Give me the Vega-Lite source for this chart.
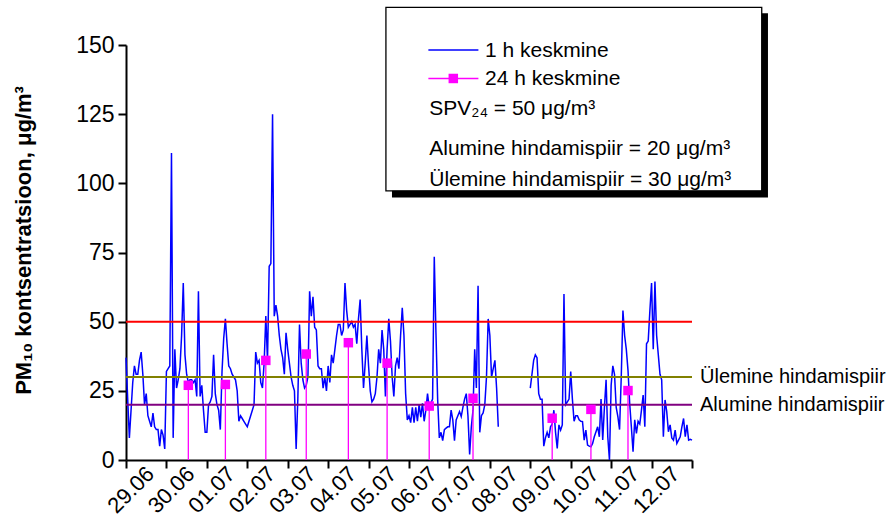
{
  "$schema": "https://vega.github.io/schema/vega-lite/v6.json",
  "width": 566,
  "height": 415,
  "autosize": "none",
  "padding": {"left": 126, "top": 45, "right": 198, "bottom": 58},
  "background": "white",
  "config": {
    "view": {"stroke": null},
    "font": "Liberation Sans",
    "text": {"font": "Liberation Sans", "color": "black"}
  },
  "data": {"values": [{}]},
  "datasets": {
    "piirid": [
      {"v": 50, "nimi": "SPV"},
      {"v": 30, "nimi": "Ülemine hindamispiir"},
      {"v": 20, "nimi": "Alumine hindamispiir"}
    ],
    "h24": [
      {"tund": 37, "v": 27}, {"tund": 59, "v": 27.3}, {"tund": 83, "v": 36}, {"tund": 107, "v": 38.3},
      {"tund": 132, "v": 42.4}, {"tund": 155, "v": 35}, {"tund": 180, "v": 19.5}, {"tund": 206, "v": 22.3},
      {"tund": 253, "v": 15.1}, {"tund": 276, "v": 18.3}, {"tund": 298, "v": 25.1}
    ],
    "h1": [
      {"tund":0,"v":37},{"tund":1,"v":22},{"tund":2,"v":8},{"tund":3,"v":18},{"tund":4,"v":28},{"tund":5,"v":34},{"tund":6,"v":31},{"tund":7,"v":31},{"tund":8,"v":36},{"tund":9,"v":39},
      {"tund":10,"v":31},{"tund":11,"v":20},{"tund":12,"v":24},{"tund":13,"v":16},{"tund":14,"v":14},{"tund":15,"v":12},{"tund":16,"v":17},{"tund":17,"v":12},{"tund":18,"v":11},{"tund":19,"v":11},
      {"tund":20,"v":5},{"tund":21,"v":11},{"tund":22,"v":9},{"tund":23,"v":4},{"tund":24,"v":32},{"tund":25,"v":33},{"tund":26,"v":34},{"tund":27,"v":111},{"tund":28,"v":8},{"tund":29,"v":40},
      {"tund":30,"v":26},{"tund":31,"v":29},{"tund":32,"v":33},{"tund":33,"v":45},{"tund":34,"v":64},{"tund":35,"v":38},{"tund":36,"v":31},{"tund":37,"v":28},{"tund":38,"v":29},{"tund":39,"v":29},
      {"tund":40,"v":28},{"tund":41,"v":29},{"tund":42,"v":23},{"tund":43,"v":61},{"tund":44,"v":23},{"tund":45,"v":27},{"tund":46,"v":18},{"tund":47,"v":10},{"tund":48,"v":10},{"tund":49,"v":20},
      {"tund":50,"v":21},{"tund":51,"v":23},{"tund":52,"v":38},{"tund":53,"v":24},{"tund":54,"v":20},{"tund":55,"v":18},{"tund":56,"v":11},{"tund":57,"v":32},{"tund":58,"v":44},{"tund":59,"v":51},
      {"tund":60,"v":42},{"tund":61,"v":34},{"tund":62,"v":33},{"tund":63,"v":31},{"tund":64,"v":30},{"tund":65,"v":29},{"tund":66,"v":25},{"tund":67,"v":14},{"tund":68,"v":16},{"tund":69,"v":15},
      {"tund":70,"v":14},{"tund":71,"v":13},{"tund":72,"v":12},{"tund":73,"v":14},{"tund":74,"v":16},{"tund":75,"v":18},{"tund":76,"v":20},{"tund":77,"v":39},{"tund":78,"v":35},{"tund":79,"v":36},
      {"tund":80,"v":28},{"tund":81,"v":26},{"tund":82,"v":35},{"tund":83,"v":52},{"tund":84,"v":36},{"tund":85,"v":70},{"tund":86,"v":71},{"tund":87,"v":125},{"tund":88,"v":52},{"tund":89,"v":56},
      {"tund":90,"v":52},{"tund":91,"v":45},{"tund":92,"v":40},{"tund":93,"v":37},{"tund":94,"v":31},{"tund":95,"v":46},{"tund":96,"v":40},{"tund":97,"v":35},{"tund":98,"v":30},{"tund":99,"v":27},
      {"tund":100,"v":25},{"tund":101,"v":4},{"tund":102,"v":22},{"tund":103,"v":49},{"tund":104,"v":35},{"tund":105,"v":29},{"tund":106,"v":26},{"tund":107,"v":27},{"tund":108,"v":30},{"tund":109,"v":61},
      {"tund":110,"v":52},{"tund":111,"v":59},{"tund":112,"v":48},{"tund":113,"v":47},{"tund":114,"v":34},{"tund":115,"v":33},{"tund":116,"v":33},{"tund":117,"v":26},{"tund":118,"v":30},{"tund":119,"v":25},
      {"tund":120,"v":34},{"tund":121,"v":28},{"tund":122,"v":38},{"tund":123,"v":35},{"tund":124,"v":40},{"tund":125,"v":45},{"tund":126,"v":49},{"tund":127,"v":49},{"tund":128,"v":45},{"tund":129,"v":47},
      {"tund":130,"v":64},{"tund":131,"v":54},{"tund":132,"v":48},{"tund":133,"v":49},{"tund":134,"v":50},{"tund":135,"v":48},{"tund":136,"v":49},{"tund":137,"v":42},{"tund":138,"v":51},{"tund":139,"v":58},
      {"tund":140,"v":40},{"tund":141,"v":26},{"tund":142,"v":35},{"tund":143,"v":45},{"tund":144,"v":34},{"tund":145,"v":25},{"tund":146,"v":21},{"tund":147,"v":22},{"tund":148,"v":24},{"tund":149,"v":30},
      {"tund":150,"v":40},{"tund":151,"v":35},{"tund":152,"v":47},{"tund":153,"v":40},{"tund":154,"v":23},{"tund":155,"v":40},{"tund":156,"v":51},{"tund":157,"v":43},{"tund":158,"v":30},{"tund":159,"v":23},
      {"tund":160,"v":34},{"tund":161,"v":37},{"tund":162,"v":33},{"tund":163,"v":45},{"tund":164,"v":55},{"tund":165,"v":45},{"tund":166,"v":24},{"tund":167,"v":14.5},{"tund":168,"v":16},{"tund":169,"v":13.5},
      {"tund":170,"v":19},{"tund":171,"v":13.5},{"tund":172,"v":19},{"tund":173,"v":14},{"tund":174,"v":20},{"tund":175,"v":15.5},{"tund":176,"v":20.5},{"tund":177,"v":14},{"tund":178,"v":18},{"tund":179,"v":24},
      {"tund":180,"v":19},{"tund":181,"v":20.5},{"tund":182,"v":22},{"tund":183,"v":73.5},{"tund":184,"v":46},{"tund":185,"v":22},{"tund":186,"v":8},{"tund":187,"v":10},{"tund":188,"v":7},{"tund":189,"v":11},
      {"tund":190,"v":11.5},{"tund":191,"v":12},{"tund":192,"v":12},{"tund":193,"v":18},{"tund":194,"v":14.5},{"tund":195,"v":7},{"tund":196,"v":14.5},{"tund":197,"v":16},{"tund":198,"v":17.5},{"tund":199,"v":15.7},
      {"tund":200,"v":19},{"tund":201,"v":22},{"tund":202,"v":24},{"tund":203,"v":16},{"tund":204,"v":2},{"tund":205,"v":12},{"tund":206,"v":18},{"tund":207,"v":40},{"tund":208,"v":26},{"tund":209,"v":63},
      {"tund":210,"v":10},{"tund":211,"v":16},{"tund":212,"v":17},{"tund":213,"v":20},{"tund":214,"v":30},{"tund":215,"v":51},{"tund":216,"v":45},{"tund":217,"v":30},{"tund":218,"v":33},{"tund":219,"v":36},
      {"tund":220,"v":26},{"tund":221,"v":12},
      {"tund":230,"v":null},
      {"tund":240,"v":26},{"tund":241,"v":31},{"tund":242,"v":36},{"tund":243,"v":38},{"tund":244,"v":37},{"tund":245,"v":24},{"tund":246,"v":22},{"tund":247,"v":22},{"tund":248,"v":5},{"tund":249,"v":8},
      {"tund":250,"v":10},{"tund":251,"v":8},{"tund":252,"v":12},{"tund":253,"v":13},{"tund":254,"v":18},{"tund":255,"v":10},{"tund":256,"v":4.2},{"tund":257,"v":12.7},{"tund":258,"v":10.8},{"tund":259,"v":12.7},
      {"tund":260,"v":60},{"tund":261,"v":20},{"tund":262,"v":21},{"tund":263,"v":22},{"tund":264,"v":32},{"tund":265,"v":22},{"tund":266,"v":14},{"tund":267,"v":16},{"tund":268,"v":16},{"tund":269,"v":14.5},
      {"tund":270,"v":14},{"tund":271,"v":13.9},{"tund":272,"v":7.2},{"tund":273,"v":10.8},{"tund":274,"v":5.4},{"tund":275,"v":5},{"tund":276,"v":4.8},{"tund":277,"v":6},{"tund":278,"v":8.4},{"tund":279,"v":10.2},
      {"tund":280,"v":12},{"tund":281,"v":8.4},{"tund":282,"v":22},{"tund":283,"v":7.2},{"tund":284,"v":19},{"tund":285,"v":29},{"tund":286,"v":8.4},{"tund":287,"v":0},{"tund":288,"v":27},{"tund":289,"v":34},
      {"tund":290,"v":31},{"tund":291,"v":19},{"tund":292,"v":15.7},{"tund":293,"v":11},{"tund":294,"v":30},{"tund":295,"v":54},{"tund":296,"v":45},{"tund":297,"v":40},{"tund":298,"v":32.5},{"tund":299,"v":20.5},
      {"tund":300,"v":12},{"tund":301,"v":3},{"tund":302,"v":14.5},{"tund":303,"v":9.6},{"tund":304,"v":14},{"tund":305,"v":13},{"tund":306,"v":18},{"tund":307,"v":23.5},{"tund":308,"v":12},{"tund":309,"v":42},
      {"tund":310,"v":43},{"tund":311,"v":54},{"tund":312,"v":64},{"tund":313,"v":40},{"tund":314,"v":64.5},{"tund":315,"v":45},{"tund":316,"v":38},{"tund":317,"v":31},{"tund":318,"v":29},{"tund":319,"v":8.4},
      {"tund":320,"v":21.7},{"tund":321,"v":17.5},{"tund":322,"v":10.2},{"tund":323,"v":12.7},{"tund":324,"v":8},{"tund":325,"v":7.2},{"tund":326,"v":10.8},{"tund":327,"v":6},{"tund":328,"v":7.2},{"tund":329,"v":8.4},
      {"tund":330,"v":12},{"tund":331,"v":15},{"tund":332,"v":8.4},{"tund":333,"v":12.7},{"tund":334,"v":7.2},{"tund":335,"v":7.5},{"tund":336,"v":7.2}
    ]
  },
  "layer": [
    {
      "data": {"name": "h1"},
      "mark": {"type": "line", "color": "#0000FF", "strokeWidth": 1.5, "invalid": "break-paths-filter-domains"},
      "encoding": {
        "x": {
          "field": "tund", "type": "quantitative",
          "scale": {"domain": [0, 336], "nice": false, "zero": false},
          "axis": {
            "title": null,
            "values": [0,24,48,72,96,120,144,168,192,216,240,264,288,312,336],
            "labelExpr": "datum.value < 330 ? ['29.06','30.06','01.07','02.07','03.07','04.07','05.07','06.07','07.07','08.07','09.07','10.07','11.07','12.07'][round(datum.value / 24)] : ''",
            "labelOffset": 24,
            "labelOverlap": false,
            "tickSize": 8, "tickWidth": 2, "tickColor": "black",
            "domainColor": "black", "domainWidth": 2,
            "labelAngle": -45, "labelAlign": "right", "labelBaseline": "middle",
            "labelFontSize": 22, "labelColor": "black", "labelFont": "Liberation Sans",
            "labelPadding": 2,
            "grid": false
          }
        },
        "y": {
          "field": "v", "type": "quantitative",
          "scale": {"domain": [0, 150], "nice": false},
          "axis": {
            "title": "PM₁₀ kontsentratsioon, μg/m³",
            "values": [0, 25, 50, 75, 100, 125, 150],
            "titleFontSize": 22, "titleFontWeight": "bold", "titleFont": "Liberation Sans", "titleColor": "black",
            "titlePadding": 40, "titleY": 195,
            "tickSize": 8, "tickWidth": 2, "tickColor": "black",
            "domainColor": "black", "domainWidth": 2,
            "labelFontSize": 23, "labelColor": "black", "labelFont": "Liberation Sans", "labelPadding": 4,
            "grid": false
          }
        }
      }
    },
    {
      "data": {"name": "piirid"},
      "mark": {"type": "rule", "strokeWidth": 2},
      "encoding": {
        "y": {"field": "v", "type": "quantitative"},
        "color": {"field": "nimi", "type": "nominal", "legend": null,
          "scale": {"domain": ["SPV", "Ülemine hindamispiir", "Alumine hindamispiir"], "range": ["#FF0000", "#808000", "#800080"]}}
      }
    },
    {
      "data": {"name": "piirid"},
      "transform": [{"filter": "datum.v < 50"}],
      "mark": {"type": "text", "align": "left", "baseline": "middle", "dx": 8, "fontSize": 20},
      "encoding": {
        "x": {"datum": 336, "scale": {"domain": [0, 336]}},
        "y": {"field": "v", "type": "quantitative"},
        "text": {"field": "nimi"}
      }
    },
    {
      "data": {"name": "h24"},
      "mark": {"type": "rule", "color": "#FF00FF", "strokeWidth": 1.3},
      "encoding": {
        "x": {"field": "tund", "type": "quantitative"},
        "y": {"field": "v", "type": "quantitative"},
        "y2": {"datum": 0}
      }
    },
    {
      "data": {"name": "h24"},
      "mark": {"type": "point", "shape": "square", "filled": true, "color": "#FF00FF", "opacity": 1, "size": 90},
      "encoding": {
        "x": {"field": "tund", "type": "quantitative"},
        "y": {"field": "v", "type": "quantitative"}
      }
    },
    {
      "mark": {"type": "rect", "color": "black"},
      "encoding": {
        "x": {"datum": 157.9}, "x2": {"datum": 381.1},
        "y": {"datum": 161.5}, "y2": {"datum": 94.9}
      }
    },
    {
      "mark": {"type": "rect", "fill": "white", "stroke": "black", "strokeWidth": 1.3},
      "encoding": {
        "x": {"datum": 154.3}, "x2": {"datum": 377.4},
        "y": {"datum": 163.6}, "y2": {"datum": 97.3}
      }
    },
    {
      "mark": {"type": "rule", "color": "#0000FF", "strokeWidth": 1.5},
      "encoding": {"x": {"datum": 179.5}, "x2": {"datum": 209.2}, "y": {"datum": 148.2}}
    },
    {
      "mark": {"type": "rule", "color": "#FF00FF", "strokeWidth": 1.5},
      "encoding": {"x": {"datum": 179.5}, "x2": {"datum": 209.2}, "y": {"datum": 137.9}}
    },
    {
      "mark": {"type": "point", "shape": "square", "filled": true, "color": "#FF00FF", "opacity": 1, "size": 90},
      "encoding": {"x": {"datum": 194.3}, "y": {"datum": 137.9}}
    },
    {
      "mark": {"type": "text", "align": "left", "baseline": "alphabetic", "fontSize": 21},
      "encoding": {"x": {"datum": 213.1}, "y": {"datum": 145.5}, "text": {"value": "1 h keskmine"}}
    },
    {
      "mark": {"type": "text", "align": "left", "baseline": "alphabetic", "fontSize": 21},
      "encoding": {"x": {"datum": 213.1}, "y": {"datum": 135.5}, "text": {"value": "24 h keskmine"}}
    },
    {
      "mark": {"type": "text", "align": "left", "baseline": "alphabetic", "fontSize": 21},
      "encoding": {"x": {"datum": 180}, "y": {"datum": 124.7}, "text": {"value": "SPV₂₄ = 50 μg/m³"}}
    },
    {
      "mark": {"type": "text", "align": "left", "baseline": "alphabetic", "fontSize": 21},
      "encoding": {"x": {"datum": 180}, "y": {"datum": 110.1}, "text": {"value": "Alumine hindamispiir = 20 μg/m³"}}
    },
    {
      "mark": {"type": "text", "align": "left", "baseline": "alphabetic", "fontSize": 21},
      "encoding": {"x": {"datum": 180}, "y": {"datum": 99.1}, "text": {"value": "Ülemine hindamispiir = 30 μg/m³"}}
    }
  ]
}
